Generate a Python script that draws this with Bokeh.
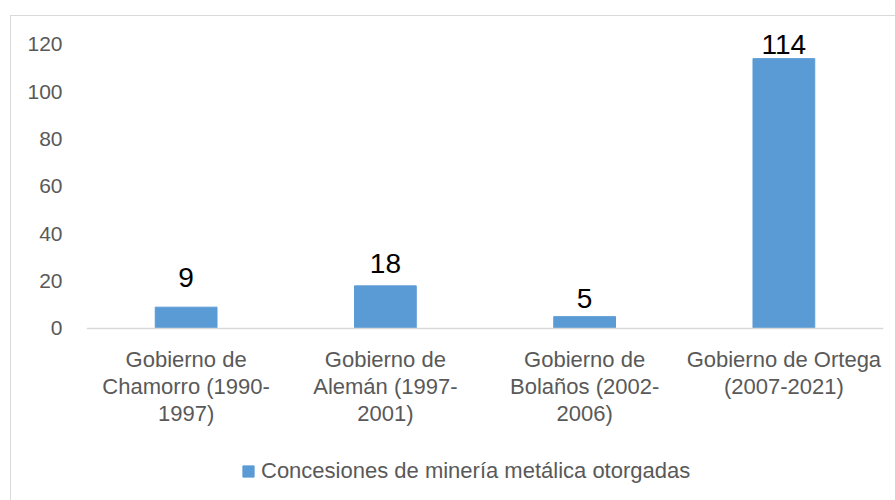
from bokeh.plotting import figure
from bokeh.models import ColumnDataSource, Range1d, FactorRange, Legend, LegendItem, Span
from bokeh.core.properties import value
from bokeh.embed import file_html
from bokeh.resources import INLINE

categories = ["Gobierno de\nChamorro (1990-\n1997)",
              "Gobierno de\nAlemán (1997-\n2001)",
              "Gobierno de\nBolaños (2002-\n2006)",
              "Gobierno de Ortega\n(2007-2021)"]
values = [9, 18, 5, 114]
value_labels = [str(v) for v in values]
series_name = "Concesiones de minería metálica otorgadas"
y_ticks = [0, 20, 40, 60, 80, 100, 120]
# pixel gap between bar top and its label (style)
label_gap = [-30, -22, -18, -14]

FONT = "Liberation Sans"
GRAY = "#595959"
BAR = "#5B9BD5"

src = ColumnDataSource(dict(cat=categories, val=values, lab=value_labels, off=label_gap,
                            base=[0] * len(categories)))

p = figure(width=885, height=485, output_backend="svg", toolbar_location=None,
           x_range=FactorRange(factors=categories, range_padding=0),
           y_range=Range1d(-73.1, 131.8), x_axis_location=None,
           min_border_left=75, min_border_right=13, min_border_top=0, min_border_bottom=0)
p.margin = (15, 0, 0, 10)
p.styles = {"border-left": "1px solid #d9d9d9", "border-top": "1px solid #d9d9d9",
            "box-sizing": "border-box"}

bars = p.vbar(x="cat", top="val", width=0.31, source=src, fill_color=BAR, line_color=BAR)
p.text(x="cat", y="val", text="lab", source=src, text_align="center", text_baseline="alphabetic",
       y_offset="off", text_font=value(FONT), text_font_size="28px", text_color="#000000")
# category labels under the baseline
p.text(x="cat", y="base", text="cat", source=src, text_align="center", text_baseline="top",
       y_offset=19, text_font=value(FONT), text_font_size="22px", text_color=GRAY,
       text_line_height=1.08)
p.add_layout(Span(location=0, dimension="width", line_color="#d9d9d9", line_width=1.5))

p.grid.visible = False
p.outline_line_color = None
p.background_fill_color = "white"
p.border_fill_color = "white"

p.yaxis.ticker = y_ticks
p.yaxis.axis_line_color = None
p.yaxis.major_tick_line_color = None
p.yaxis.minor_tick_line_color = None
p.yaxis.major_tick_out = 0
p.yaxis.major_label_standoff = 24
p.yaxis.major_label_text_font = FONT
p.yaxis.major_label_text_font_size = "21px"
p.yaxis.major_label_text_color = GRAY

legend = Legend(items=[LegendItem(label=series_name, renderers=[bars])],
                location=(155, 17), orientation="horizontal",
                glyph_width=14, glyph_height=14, label_standoff=6,
                label_text_font=FONT, label_text_font_size="22px", label_text_color=GRAY,
                padding=0, margin=0, border_line_color=None, background_fill_alpha=0)
p.add_layout(legend, "center")

open("out.html", "w").write(file_html(p, INLINE))
